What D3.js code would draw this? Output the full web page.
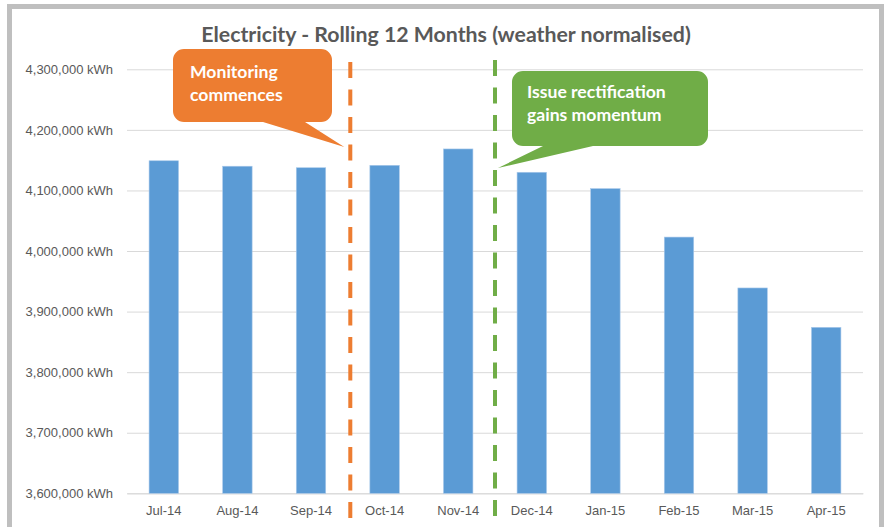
<!DOCTYPE html>
<html>
<head>
<meta charset="utf-8">
<script src="https://cdn.jsdelivr.net/npm/d3@7"></script>
<style>
  html, body { margin: 0; padding: 0; background: #fff; }
  svg { display: block; font-family: Lato, "Open Sans", sans-serif; }
</style>
</head>
<body>
<svg id="chart" width="887" height="527"></svg>
<script>
// data
const months = ["Jul-14", "Aug-14", "Sep-14", "Oct-14", "Nov-14", "Dec-14", "Jan-15", "Feb-15", "Mar-15", "Apr-15"];
const kwh = [4149000, 4140000, 4137500, 4141500, 4168500, 4130000, 4103000, 4023000, 3939000, 3874000];
const yTicks = [3600000, 3700000, 3800000, 3900000, 4000000, 4100000, 4200000, 4300000];

// annotations: dashed marker drawn after a category, with a callout
const markers = [
    {after: "Sep-14", color: "#ed7d31", shift: 2.5, top: 62,
     lines: ["Monitoring", "commences"],
     box: [173, 49, 332, 122], tail: [263, 305], tip: [-6, 147], text: [190, 78]},
    {after: "Nov-14", color: "#70ad47", shift: 0, top: 60,
     lines: ["Issue rectification", "gains momentum"],
     box: [512, 71, 708, 146], tail: [543, 593], tip: [3, 168], text: [527, 98]}
];

const width = 887, height = 527;
const plot = {left: 127, right: 863, top: 69.3, bottom: 493.3};

const svg = d3.select("#chart");

// chart frame
svg.append("rect")
    .attr("x", 9.5).attr("y", 6.5)
    .attr("width", 872).attr("height", 540)
    .attr("fill", "#fff")
    .attr("stroke", "#bfbfbf")
    .attr("stroke-width", 5);

const x = d3.scaleBand()
    .domain(months)
    .range([plot.left, plot.right])
    .paddingInner(0.6)
    .paddingOuter(0.3);

const y = d3.scaleLinear()
    .domain([3600000, 4300000])
    .range([plot.bottom, plot.top]);

// gridlines + y labels
const yAxis = d3.axisLeft(y)
    .tickValues(yTicks)
    .tickSize(-(plot.right - plot.left))
    .tickPadding(14)
    .tickFormat(d => d3.format(",")(d) + " kWh");

svg.append("g")
    .attr("transform", `translate(${plot.left},0)`)
    .call(yAxis)
    .call(g => g.select(".domain").remove())
    .call(g => g.selectAll("line").attr("stroke", "#d9d9d9"))
    .call(g => g.selectAll("text")
        .attr("fill", "#595959")
        .style("font-size", "13px"));

// x labels
svg.append("g")
    .attr("transform", `translate(0,${plot.bottom})`)
    .call(d3.axisBottom(x).tickSize(0).tickPadding(12))
    .call(g => g.select(".domain").attr("stroke", "#d9d9d9"))
    .call(g => g.selectAll("text")
        .attr("fill", "#595959")
        .style("font-size", "13px"));

// bars
svg.append("g")
    .selectAll("rect")
    .data(months)
    .join("rect")
    .attr("x", d => x(d))
    .attr("width", x.bandwidth())
    .attr("y", (d, i) => y(kwh[i]))
    .attr("height", (d, i) => y(3600000) - y(kwh[i]))
    .attr("fill", "#5b9bd5")
    .attr("stroke", "#a9c9ea")
    .attr("stroke-width", 0.6);

// title
svg.append("text")
    .attr("x", 446)
    .attr("y", 42)
    .attr("text-anchor", "middle")
    .attr("fill", "#595959")
    .style("font-size", "21.3px")
    .style("font-weight", "bold")
    .text("Electricity - Rolling 12 Months (weather normalised)");

// rounded box with a pointer coming off its bottom edge
function calloutPath(b, tail, tip, r) {
    const [x0, y0, x1, y1] = b;
    return `M${x0 + r},${y0}H${x1 - r}A${r},${r} 0 0 1 ${x1},${y0 + r}` +
        `V${y1 - r}A${r},${r} 0 0 1 ${x1 - r},${y1}` +
        `H${tail[1]}L${tip[0]},${tip[1]}L${tail[0]},${y1}` +
        `H${x0 + r}A${r},${r} 0 0 1 ${x0},${y1 - r}` +
        `V${y0 + r}A${r},${r} 0 0 1 ${x0 + r},${y0}Z`;
}

markers.forEach(m => {
    const lx = x(m.after) + x.bandwidth() + x.step() * x.paddingInner() / 2 + m.shift;

    svg.append("line")
        .attr("x1", lx).attr("x2", lx)
        .attr("y1", m.top).attr("y2", height + 10)
        .attr("stroke", m.color)
        .attr("stroke-width", 4)
        .attr("stroke-dasharray", "16,11.5");

    svg.append("path")
        .attr("d", calloutPath(m.box, m.tail, [lx + m.tip[0], m.tip[1]], 11))
        .attr("fill", m.color);

    svg.append("text")
        .attr("fill", "#fff")
        .style("font-size", "17.6px")
        .style("font-weight", "bold")
        .selectAll("tspan")
        .data(m.lines)
        .join("tspan")
        .attr("x", m.text[0])
        .attr("y", (d, k) => m.text[1] + k * 22.5)
        .text(d => d);
});
</script>
</body>
</html>
